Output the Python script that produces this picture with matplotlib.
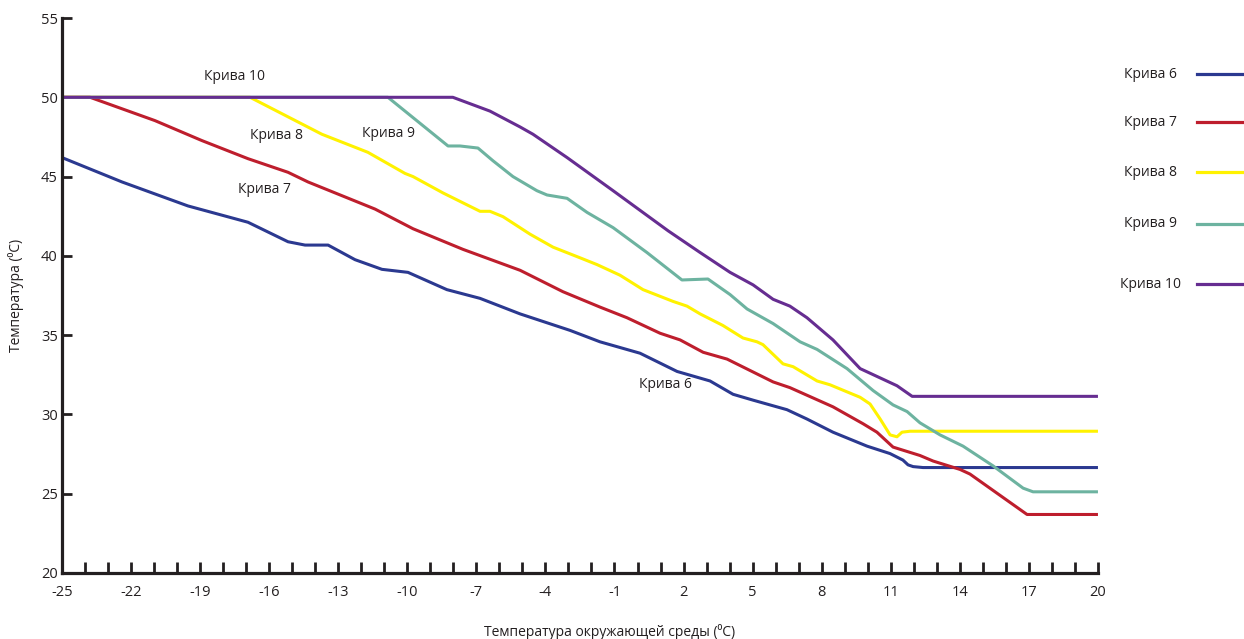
import matplotlib
matplotlib.use('Agg')
import matplotlib.pyplot as plt
from matplotlib.lines import Line2D
from matplotlib.ticker import MultipleLocator, FixedLocator

plt.rcParams['font.family'] = ['Open Sans', 'Noto Sans', 'DejaVu Sans']
plt.rcParams['axes.unicode_minus'] = False

# Curve data: outdoor temperature -> supply temperature
x6 = [-25, -22.39, -19.53, -16.92, -15.18, -14.44, -13.44, -12.27, -11.10, -9.97, -8.28, -6.84,
      -5.10, -2.93, -1.63, 0.11, 1.72, 3.15, 4.15, 5.02, 6.49, 7.36, 8.49, 9.97, 10.97, 11.53,
      11.75, 11.97, 12.40, 20]
y6 = [46.2, 44.66, 43.15, 42.12, 40.89, 40.68, 40.68, 39.76, 39.15, 38.96, 37.87, 37.32,
      36.34, 35.30, 34.58, 33.86, 32.71, 32.11, 31.27, 30.90, 30.30, 29.71, 28.88, 28.0, 27.53, 27.12,
      26.82, 26.71, 26.65, 26.65]

x7 = [-25, -23.78, -20.96, -18.92, -16.92, -15.18, -14.31, -11.40, -9.75, -7.58, -5.10, -3.24,
      -1.63, -0.46, 0.98, 1.85, 2.85, 3.89, 5.89, 6.62, 8.49, 9.80, 10.40, 11.10, 12.27, 12.84,
      14.01, 14.44, 16.92, 20]
y7 = [50, 50, 48.53, 47.27, 46.13, 45.27, 44.66, 42.95, 41.71, 40.41, 39.09, 37.74,
      36.77, 36.10, 35.12, 34.70, 33.92, 33.49, 32.05, 31.69, 30.48, 29.41, 28.88, 27.94, 27.41, 27.06,
      26.53, 26.24, 23.69, 23.69]

x8 = [-25, -16.83, -13.71, -11.71, -10.10, -9.75, -8.45, -6.84, -6.41, -5.84, -4.67, -3.67, -2.50,
      -1.76, -0.76, 0.24, 1.54, 2.15, 2.72, 3.71, 4.58, 5.19, 5.45, 6.32, 6.76, 7.80, 8.36,
      9.67, 10.10, 10.54, 10.97, 11.27, 11.49, 11.84, 20]
y8 = [50, 50, 47.67, 46.53, 45.2, 45.0, 43.97, 42.81, 42.81, 42.47, 41.37, 40.55, 39.88,
      39.45, 38.78, 37.87, 37.13, 36.83, 36.34, 35.61, 34.82, 34.58, 34.40, 33.19, 33.01, 32.11, 31.87,
      31.08, 30.66, 29.71, 28.71, 28.59, 28.88, 28.94, 28.94]

x9 = [-25, -10.84, -8.23, -7.71, -6.93, -6.28, -5.41, -4.37, -3.93, -3.06, -2.19, -1.06, 0.41,
      1.93, 3.06, 4.02, 4.76, 5.89, 7.06, 7.80, 9.10, 10.23, 11.10, 11.71, 12.27, 13.14, 14.14,
      15.44, 16.75, 17.18, 20]
y9 = [50, 50, 46.93, 46.93, 46.80, 46.0, 45.0, 44.11, 43.84, 43.63, 42.74, 41.78, 40.21,
      38.48, 38.54, 37.56, 36.65, 35.73, 34.58, 34.10, 32.89, 31.51, 30.60, 30.18, 29.47, 28.71, 28.0,
      26.76, 25.35, 25.12, 25.12]

x10 = [-25, -8.02, -6.41, -5.10, -4.54, -3.06, -1.06, 1.33, 2.72, 4.02, 5.02, 5.89, 6.62,
       7.36, 8.49, 9.67, 11.27, 11.93, 20]
y10 = [50, 50, 49.13, 48.13, 47.67, 46.2, 44.11, 41.58, 40.21, 38.96, 38.17, 37.26, 36.83,
       36.1, 34.70, 32.89, 31.81, 31.14, 31.14]

names = ['Крива 6', 'Крива 7', 'Крива 8', 'Крива 9', 'Крива 10']
colors = ['#2b3990', '#be1e2d', '#fff200', '#6db3a0', '#662d91']
curves = [(x6, y6), (x7, y7), (x8, y8), (x9, y9), (x10, y10)]

x_ticks = list(range(-25, 21, 3))

# in-plot labels
label_names = ['Крива 10', 'Крива 8', 'Крива 9', 'Крива 7', 'Крива 6']
label_x = [-17.5, -15.7, -10.8, -16.2, 1.2]
label_y = [51.3, 47.6, 47.7, 44.2, 31.9]

ink = '#231f20'

fig = plt.figure(figsize=(12.44, 6.39), dpi=100)
ax = fig.add_axes([0.0498, 0.1033, 0.8328, 0.8685])

for (xs, ys), c in zip(curves, colors):
    ax.plot(xs, ys, color=c, lw=2.2, solid_capstyle='butt', solid_joinstyle='round')

for t, lx, ly in zip(label_names, label_x, label_y):
    ax.text(lx, ly, t, fontsize=10, color=ink, ha='center', va='center')

ax.set_xlim(-25, 20)
ax.set_ylim(20, 55)
ax.xaxis.set_major_locator(FixedLocator(x_ticks))
ax.xaxis.set_minor_locator(MultipleLocator(1))
ax.yaxis.set_major_locator(MultipleLocator(5))
ax.tick_params(axis='x', which='both', direction='in', length=8, width=2, color=ink,
               labelsize=10.5, labelcolor=ink, pad=9)
ax.tick_params(axis='y', which='major', direction='in', length=7, width=2, color=ink,
               labelsize=10.5, labelcolor=ink, pad=3)
for s in ['top', 'right']:
    ax.spines[s].set_visible(False)
for s in ['left', 'bottom']:
    ax.spines[s].set_linewidth(2.3)
    ax.spines[s].set_color(ink)

ax.set_xlabel('Температура окружающей среды (\u2070C)', fontsize=10, color=ink)
ax.xaxis.set_label_coords(0.529, -0.092)
ax.set_ylabel('Температура (\u2070C)', fontsize=10, color=ink)
ax.yaxis.set_label_coords(-0.037, 0.5)

# legend on the right
leg_y = [74, 122, 172, 224, 284]
for name, c, py in zip(names, colors, leg_y):
    fy = 1 - py / 639
    fig.text(1150 / 1244, fy, name, fontsize=10, color=ink, ha='center', va='center')
    fig.add_artist(Line2D([1197 / 1244, 1244 / 1244], [fy, fy], color=c, lw=2.3,
                          transform=fig.transFigure))

fig.savefig('out.png', dpi=100)
